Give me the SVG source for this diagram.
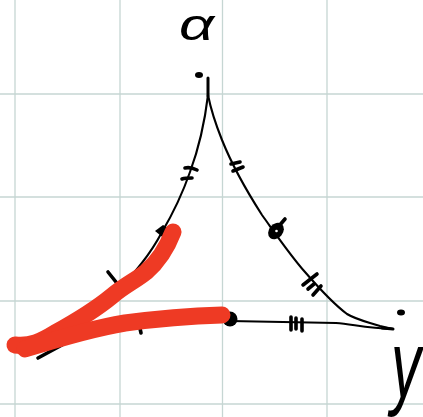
<svg xmlns="http://www.w3.org/2000/svg" width="423" height="417" viewBox="0 0 423 417">
<style>
.grid{stroke:#c6d6d3;stroke-width:1.3;fill:none}
.ink{stroke:#000;fill:none;stroke-linecap:round;stroke-linejoin:round}
.thin{stroke-width:2.1}
.mid{stroke-width:3}
.bold{stroke-width:3.6}
.red{stroke:#ee3a24;fill:none;stroke-linecap:round;stroke-linejoin:round;stroke-width:17}
.label{font-family:"Liberation Sans",Arial,sans-serif;font-style:italic;fill:#000}
</style>
<rect width="423" height="417" fill="#fff"/>
<g id="grid" class="grid">
<path d="M15 0V417M120 0V417M222.500 0V417M327 0V417M0 94H423M0 197H423M0 301H423M0 404H423"/>
</g>
<g id="connectors">
<path class="ink thin" d="M208 95C205 120 200 145 190 172C182 195 172 215 162 232C150 255 135 272 118 291"/>
<path class="ink bold" d="M38 358L62 345"/>
<path class="ink thin" d="M208 95C212 115 218 130 222 140C232 165 246 190 262 215C275 233 290 255 305 272C318 287 335 305 347 314C357 320 368 322 380 326L393 329"/>
<path class="ink thin" d="M230 321L336 323C352 324 365 328 393 329"/>
<path class="ink mid" d="M208 78V96M382 328L393 329"/>
</g>
<g id="label-alpha">
<text class="label" transform="translate(179 40) scale(1.4 1)" x="0" y="0" font-size="44">α</text>
</g>
<g id="label-y">
<text class="label" transform="translate(391 397) scale(1.5 2.37)" x="0" y="0" font-size="40">y</text>
</g>
<g id="marks" class="ink">
<path class="bold" d="M185 168C189 167 193 168 197 170M182 179C185 178 189 178 192 178"/>
<path class="bold" d="M231 164L240 162M233 171L243 167"/>
<path class="bold" d="M303 285L317 274M308 289L314 284M313 295L321 286"/>
<path class="bold" d="M291 317V330M296 318V329M302 319V331"/>
<path class="bold" d="M108 272L120 287M137 315L141 333"/>
</g>
<g id="dots">
<ellipse cx="199" cy="75" rx="4" ry="3" fill="#000"/>
<path d="M155 231L163 225L172 230L166 240Z" fill="#000"/>
<ellipse cx="276" cy="231" rx="7" ry="9" transform="rotate(40 276 231)" fill="#000"/>
<path class="ink bold" d="M279 226L285 219"/>
<circle cx="276.500" cy="231" r="1.300" fill="#fff"/>
<circle cx="230" cy="319" r="7.500" fill="#000"/>
<ellipse cx="401" cy="312.500" rx="4" ry="3" fill="#000"/>
</g>
<g id="highlight">
<path class="red" d="M173 232C168 245 160 260 146 272C135 281 125 285 112 296C95 310 75 322 55 333C42 341 30 347 15 345"/>
<path class="red" d="M222 315C190 316 155 319 125 323C95 328 60 338 25 349"/>
</g>
</svg>
